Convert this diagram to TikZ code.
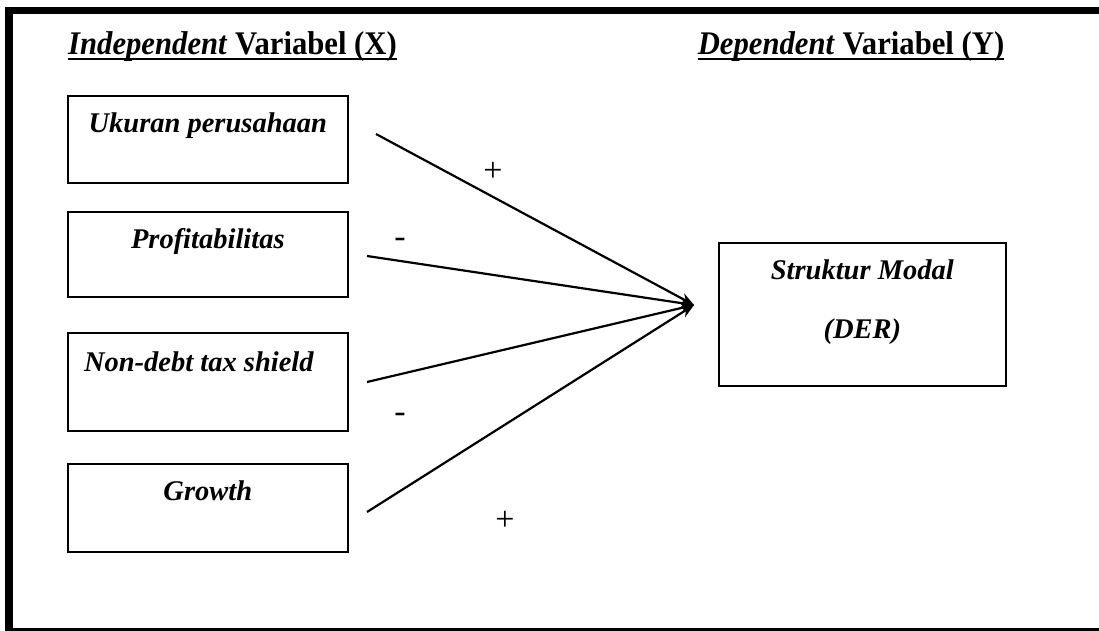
\documentclass[tikz,border=0pt]{standalone}
\usepackage{fontspec}
\setmainfont{Liberation Serif}
\newfontfamily\headfont[FakeStretch=0.93]{Liberation Serif}
\usetikzlibrary{arrows.meta, positioning, calc}
\tikzset{
  varbox/.style={rectangle, draw=black, line width=1.6pt, minimum width=280pt,
    inner sep=0pt, align=center, font=\fontsize{28.5}{34}\selectfont\bfseries\itshape},
  heading/.style={inner sep=0pt, anchor=base, font=\headfont\fontsize{33}{40}\selectfont\bfseries},
  uline/.style={line width=2.8pt},
  arrow/.style={-{Stealth[length=14pt, width=11pt]}, line width=2.2pt},
  sign/.style={inner sep=0pt, font=\fontsize{34}{40}\selectfont}
}

\begin{document}
\begin{tikzpicture}[x=1pt, y=-1pt]
  \useasboundingbox (0,0) rectangle (1099,631);
  % outer frame
  \draw[line width=7.5pt] (9,10.5) rectangle (1140,632);

  % headings
  \node[heading] (xtitle) at (232.5,55) {\textit{Independent} Variabel (X)};
  \node[heading] (ytitle) at (851,55) {\textit{Dependent} Variabel (Y)};
  \draw[uline] ([yshift=-4pt]xtitle.base west) -- ([yshift=-4pt]xtitle.base east);
  \draw[uline] ([yshift=-4pt]ytitle.base west) -- ([yshift=-4pt]ytitle.base east);

  % independent variables
  \node[varbox, anchor=north west, text height=37pt, text depth=50pt] (ukuran) at (67,95) {Ukuran perusahaan};
  \node[varbox, anchor=north west, text height=37pt, text depth=48pt] (profit) at (67,211) {Profitabilitas};
  \node[varbox, anchor=north west, text height=39pt, text depth=59pt] (ndts) at (67,332) {Non-debt tax shield\hspace{18pt}};
  \node[varbox, anchor=north west, text height=37pt, text depth=51pt] (growth) at (67,463) {Growth};

  % dependent variable
  \node[varbox, anchor=north west, minimum width=287pt, text height=96pt, text depth=47pt] (struktur) at (718,242)
    {Struktur Modal\\[25pt](DER)};

  % connectors
  \coordinate (hub) at (694,305);
  \coordinate (s1) at (376,134);
  \coordinate (s2) at (367,256);
  \coordinate (s3) at (367,382);
  \coordinate (s4) at (367,512);
  \foreach \s in {s1,s2,s3,s4}
    \draw[arrow] (\s) -- (hub);

  % signs
  \node[sign] (sg1) at (493,172) {+};
  \node[sign] (sg2) at (400,243) {-};
  \node[sign] (sg3) at (400,418) {-};
  \node[sign] (sg4) at (505,521) {+};
\end{tikzpicture}
\end{document}
